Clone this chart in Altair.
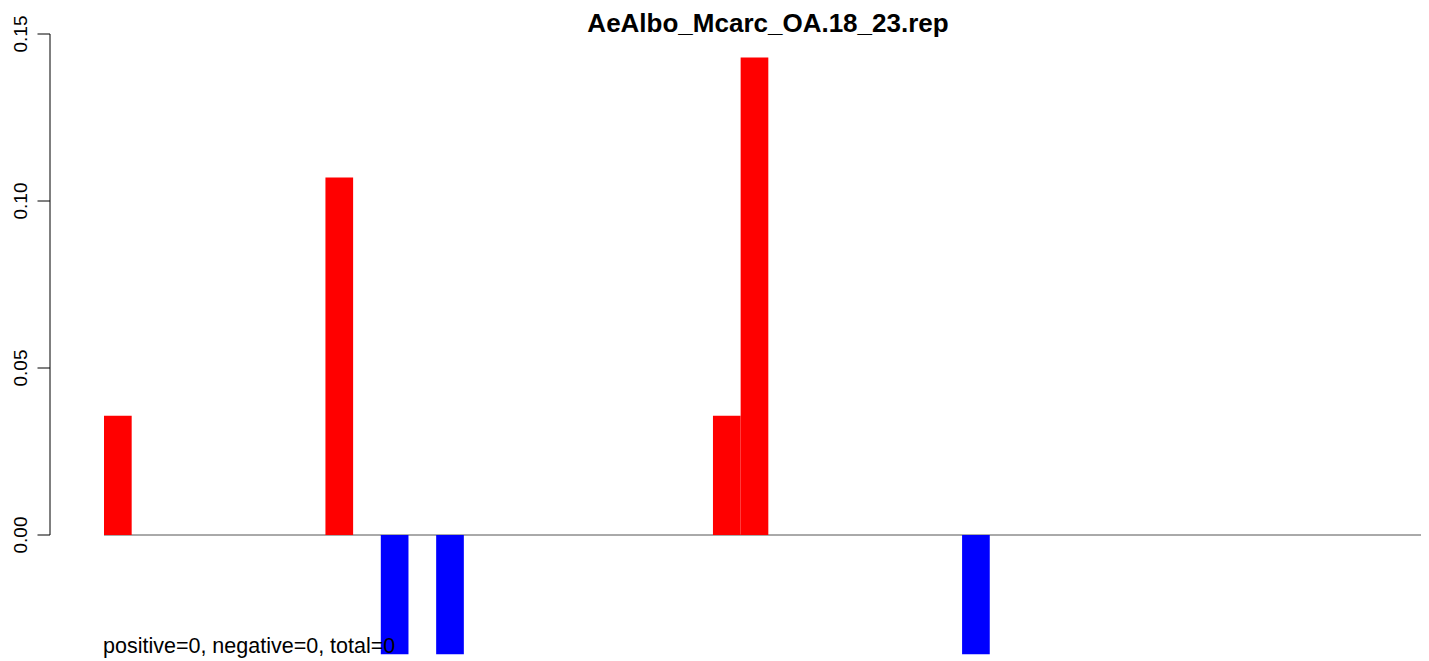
import altair as alt
import pandas as pd

# ---- data ----
bar_index = [0, 8, 10, 12, 22, 23, 31]
bar_value = [0.0357, 0.107, -0.0357, -0.0357, 0.0357, 0.143, -0.0357]
n_bins = 48
y_ticks = [0.0, 0.05, 0.10, 0.15]
y_tick_labels = ["0.00", "0.05", "0.10", "0.15"]
title_text = "AeAlbo_Mcarc_OA.18_23.rep"
note_text = "positive=0, negative=0, total=0"

W, H = 1413, 653
X_DOM = [(8 - 104) / 27.68, (1421 - 104) / 27.68]
Y_DOM = [(535 - 661) / 3340, (535 - 8) / 3340]
FONT = "Liberation Sans"

bars = pd.DataFrame({
    "start": bar_index,
    "end": [i + 1 for i in bar_index],
    "value": bar_value,
    "sign": ["pos" if v > 0 else "neg" for v in bar_value],
})
base_line = pd.DataFrame({"start": [0], "end": [n_bins], "value": [0.0]})
ticks = pd.DataFrame({"y": y_ticks, "label": y_tick_labels})

xs = alt.Scale(domain=X_DOM, nice=False, zero=False)
ys = alt.Scale(domain=Y_DOM, nice=False, zero=False)

zero_rule = alt.Chart(base_line).mark_rule(color="#555555", strokeWidth=1).encode(
    x=alt.X("start:Q", scale=xs, axis=None),
    x2="end:Q",
    y=alt.Y("value:Q", scale=ys, axis=None),
)

bar_layer = alt.Chart(bars).mark_rect().encode(
    x=alt.X("start:Q", scale=xs, axis=None),
    x2="end:Q",
    y=alt.Y("value:Q", scale=ys, axis=None),
    y2=alt.datum(0),
    color=alt.Color("sign:N", scale=alt.Scale(domain=["pos", "neg"], range=["#FF0000", "#0000FF"]), legend=None),
)

axis_line = alt.Chart(ticks).mark_rule(color="black", strokeWidth=1).encode(
    x=alt.value(42),
    y=alt.Y("min(y):Q", scale=ys, axis=None),
    y2="max(y):Q",
)
axis_ticks = alt.Chart(ticks).mark_rule(color="black", strokeWidth=1).encode(
    x=alt.value(29.5),
    x2=alt.value(42),
    y=alt.Y("y:Q", scale=ys, axis=None),
)
axis_labels = alt.Chart(ticks).mark_text(
    angle=270, align="center", baseline="alphabetic", font=FONT, fontSize=19, color="black"
).encode(
    x=alt.value(18.5),
    y=alt.Y("y:Q", scale=ys, axis=None),
    text="label:N",
)

title = alt.Chart(pd.DataFrame({"t": [title_text]})).mark_text(
    align="center", baseline="alphabetic", font=FONT, fontSize=26, fontWeight="bold", color="black"
).encode(x=alt.value(760), y=alt.value(24), text="t:N")

note = alt.Chart(pd.DataFrame({"t": [note_text]})).mark_text(
    align="left", baseline="alphabetic", font=FONT, fontSize=21.5, color="black"
).encode(x=alt.value(95), y=alt.value(645), text="t:N")

chart = alt.layer(zero_rule, bar_layer, axis_line, axis_ticks, axis_labels, title, note).properties(
    width=W, height=H, padding=0, autosize=alt.AutoSizeParams(type="none")
).configure_view(stroke=None)

chart.save("out.html", embed_options={"renderer": "svg", "actions": False})
